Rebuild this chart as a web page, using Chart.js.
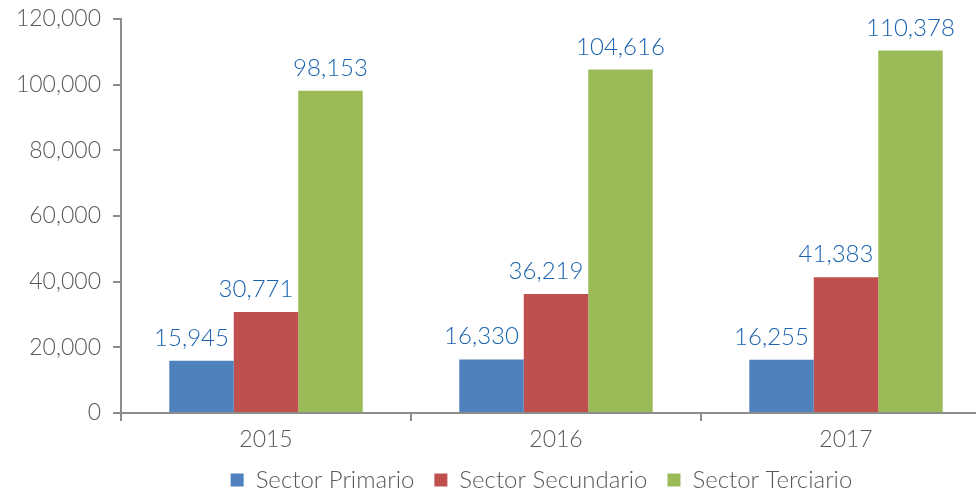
<!DOCTYPE html>
<html>
<head>
<meta charset="utf-8">
<script src="https://cdn.jsdelivr.net/npm/chart.js@4/dist/chart.umd.min.js"></script>
<style>
    html, body { margin: 0; padding: 0; background: #fff; overflow: hidden; }
    #wrap { width: 976px; height: 494px; overflow: hidden; }
</style>
</head>
<body>
<div id="wrap"><canvas id="barChart" width="991" height="494"></canvas></div>
<script>
'use strict';

var years = ['2015', '2016', '2017'];
var seriesNames = ['Sector Primario', 'Sector Secundario', 'Sector Terciario'];
var primario = [15945, 16330, 16255];
var secundario = [30771, 36219, 41383];
var terciario = [98153, 104616, 110378];
var yTicks = [0, 20000, 40000, 60000, 80000, 100000, 120000];

var colors = ['#4F81BD', '#C0504D', '#9BBB59'];
var axisColor = '#8C8C8C';
var textColor = '#595959';
var labelColor = '#1B63B0';
var fontFamily = 'Lato, "Liberation Sans", sans-serif';

function formatNumber(v) {
    return Number(v).toLocaleString('en-US');
}

// draws the value above each bar
var valueLabels = {
    id: 'valueLabels',
    afterDatasetsDraw: function (chart, args, opts) {
        var ctx = chart.ctx;
        ctx.save();
        ctx.font = '300 24px ' + fontFamily;
        ctx.fillStyle = labelColor;
        ctx.textAlign = 'center';
        ctx.textBaseline = 'alphabetic';
        chart.data.datasets.forEach(function (ds, i) {
            var meta = chart.getDatasetMeta(i);
            var shift = opts.shifts[i] || 0;
            meta.data.forEach(function (bar, j) {
                ctx.fillText(formatNumber(ds.data[j]), bar.x + shift, bar.y - 15);
            });
        });
        ctx.restore();
    }
};

// legend in the original sits right of centre
var legendShift = {
    id: 'legendShift',
    afterLayout: function (chart, args, opts) {
        chart.legend.left += opts.dx;
        chart.legend.right += opts.dx;
    }
};

var allSeries = [primario, secundario, terciario];
var datasets = [];
for (var i = 0; i < allSeries.length; i++) {
    datasets.push({
        label: seriesNames[i],
        data: allSeries[i],
        backgroundColor: colors[i],
        borderWidth: 0,
        barPercentage: 1.0,
        categoryPercentage: 0.667
    });
}

var ctx = document.getElementById('barChart').getContext('2d');
new Chart(ctx, {
    type: 'bar',
    data: { labels: years, datasets: datasets },
    plugins: [valueLabels, legendShift],
    options: {
        responsive: false,
        animation: false,
        layout: { padding: { top: 19, right: 0, left: 0, bottom: -8 } },
        plugins: {
            tooltip: { enabled: false },
            valueLabels: { shifts: [-10, -10, 0] },
            legendShift: { dx: 46 },
            legend: {
                position: 'bottom',
                labels: {
                    boxWidth: 13,
                    boxHeight: 13,
                    padding: 20,
                    color: textColor,
                    font: { family: fontFamily, size: 24, weight: '300' }
                }
            }
        },
        scales: {
            x: {
                afterFit: function (scale) {
                    scale.height = 35;
                    scale.paddingLeft = 0;
                    scale.paddingRight = 0;
                },
                grid: {
                    offset: true,
                    drawOnChartArea: false,
                    drawTicks: true,
                    tickLength: 8,
                    color: axisColor,
                    lineWidth: 2
                },
                border: { color: axisColor, width: 2 },
                ticks: {
                    color: textColor,
                    padding: 5,
                    font: { family: fontFamily, size: 23, weight: '300' }
                }
            },
            y: {
                min: 0,
                max: 120000,
                afterFit: function (scale) {
                    scale.width = 121;
                    scale.paddingTop = 0;
                    scale.paddingBottom = 0;
                },
                afterBuildTicks: function (scale) {
                    scale.ticks = yTicks.map(function (v) { return { value: v }; });
                },
                grid: {
                    drawOnChartArea: false,
                    drawTicks: true,
                    tickLength: 8,
                    color: axisColor,
                    lineWidth: 2
                },
                border: { color: axisColor, width: 2 },
                ticks: {
                    color: textColor,
                    padding: 12,
                    font: { family: fontFamily, size: 23, weight: '300' },
                    callback: function (v) { return formatNumber(v); }
                }
            }
        }
    }
});
</script>
</body>
</html>
